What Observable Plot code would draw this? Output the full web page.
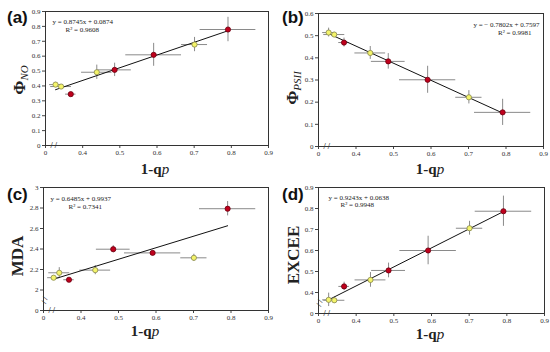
<!DOCTYPE html>
<html><head><meta charset="utf-8">
<script src="https://cdn.jsdelivr.net/npm/d3@7"></script>
<script src="https://cdn.jsdelivr.net/npm/@observablehq/plot@0.6"></script>
<style>
body{margin:0;background:#fff;}
#root{position:relative;width:550px;height:352px;overflow:hidden;background:#fff;}
.panel{position:absolute;width:275px;height:176px;}
.plab{position:absolute;font:bold 17px "Liberation Sans",Arial,sans-serif;color:#111;line-height:1;}
.ytitle{position:absolute;transform:translate(-50%,-50%) rotate(-90deg);font:bold 17px "Liberation Serif",serif;white-space:nowrap;color:#222;line-height:1;}
.xtitle{position:absolute;transform:translate(-50%,-50%);font:bold 15px "Liberation Serif",serif;white-space:nowrap;color:#222;line-height:1;}
sub{font-size:11px;vertical-align:-3px;font-style:italic;font-weight:normal;}
</style></head>
<body>
<div id="root">
  <div class="panel" id="pa" style="left:0;top:0"></div>
  <div class="panel" id="pb" style="left:275px;top:0"></div>
  <div class="panel" id="pc" style="left:0;top:176px"></div>
  <div class="panel" id="pd" style="left:275px;top:176px"></div>
  <div class="plab" style="left:7px;top:9px">(a)</div>
  <div class="plab" style="left:282px;top:9px">(b)</div>
  <div class="plab" style="left:7px;top:186px">(c)</div>
  <div class="plab" style="left:282px;top:186px">(d)</div>
  <div class="ytitle" style="left:20px;top:80px">Φ<sub>NO</sub></div>
  <div class="ytitle" style="left:293px;top:88px">Φ<sub>PSII</sub></div>
  <div class="ytitle" style="left:17px;top:256px">MDA</div>
  <div class="ytitle" style="left:293px;top:255px">EXCEE</div>
  <div class="xtitle" style="left:155px;top:169px">1-q<i style="font-weight:normal">p</i></div>
  <div class="xtitle" style="left:430px;top:169px">1-q<i style="font-weight:normal">p</i></div>
  <div class="xtitle" style="left:145px;top:331px">1-q<i style="font-weight:normal">p</i></div>
  <div class="xtitle" style="left:430px;top:334px">1-q<i style="font-weight:normal">p</i></div>
</div>
<script>
// ---- data ----
const pointGroup = ["Y", "Y", "R", "Y", "R", "R", "Y", "R"];
const oneMinusQp = [0.327, 0.342, 0.368, 0.438, 0.486, 0.591, 0.701, 0.791];
const oneMinusQpErr = [0.016, 0.028, 0.014, 0.041, 0.045, 0.075, 0.035, 0.075];
const phiNO = [0.409, 0.396, 0.345, 0.492, 0.508, 0.609, 0.678, 0.779];
const phiNOErr = [0.015, 0.01, 0.01, 0.048, 0.045, 0.077, 0.048, 0.082];
const phiPSII = [0.514, 0.505, 0.469, 0.422, 0.384, 0.301, 0.222, 0.154];
const phiPSIIErr = [0.02, 0.01, 0.02, 0.029, 0.035, 0.061, 0.03, 0.059];
const mda = [2.12, 2.168, 2.10, 2.194, 2.398, 2.362, 2.314, 2.793];
const mdaErr = [0.012, 0.05, 0.01, 0.045, 0.035, 0.02, 0.035, 0.07];
const excee = [0.365, 0.363, 0.429, 0.460, 0.505, 0.600, 0.706, 0.787];
const exceeErr = [0.032, 0.015, 0.02, 0.035, 0.035, 0.068, 0.033, 0.072];

const xTicks = [0.3, 0.4, 0.5, 0.6, 0.7, 0.8, 0.9];
const xTickLabels = ["0", "0.4", "0.5", "0.6", "0.7", "0.8", "0.9"];
const yTicksA = [0, 0.1, 0.2, 0.3, 0.4, 0.5, 0.6, 0.7, 0.8, 0.9];
const yTickLabelsA = ["0", "0.1", "0.2", "0.3", "0.4", "0.5", "0.6", "0.7", "0.8", "0.9"];
const yTicksB = [0, 0.1, 0.2, 0.3, 0.4, 0.5, 0.6];
const yTickLabelsB = ["0", "0.1", "0.2", "0.3", "0.4", "0.5", "0.6"];
const yTicksC = [1.8, 2, 2.2, 2.4, 2.6, 2.8, 3];
const yTickLabelsC = ["0", "2", "2.2", "2.4", "2.6", "2.8", "3"];
const yTicksD = [0.3, 0.4, 0.5, 0.6, 0.7, 0.8, 0.9];
const yTickLabelsD = ["0", "0.4", "0.5", "0.6", "0.7", "0.8", "0.9"];

const equations = ["y = 0.8745x + 0.0874", "y = \u2212 0.7802x + 0.7597", "y = 0.6485x + 0.9937", "y = 0.9243x + 0.0638"];
const rSquared = ["R\u00b2 = 0.9608", "R\u00b2 = 0.9981", "R\u00b2 = 0.7341", "R\u00b2 = 0.9948"];

const RED = "#c0001c", RED_STROKE = "#6a0010";
const YEL = "#f4f46a", YEL_STROKE = "#86864c";
const ERR = "#8a8a8a";

function rows(ys, yErr) {
  return ys.map((y, i) => ({g: pointGroup[i], x: oneMinusQp[i], ex: oneMinusQpErr[i], y, ey: yErr[i]}));
}

function panel(o) {
  const data = rows(o.y, o.yErr);
  const xFmt = new Map(xTicks.map((t, i) => [t, xTickLabels[i]]));
  const yFmt = new Map(o.yTicks.map((t, i) => [t, o.yTickLabels[i]]));
  const left = o.eqSide === "left";
  const marks = [
    Plot.axisX({ticks: xTicks, tickFormat: d => xFmt.get(d), tickSize: 3, tickPadding: 2, label: null, stroke: "#444", fill: "#333"}),
    Plot.axisY({ticks: o.yTicks, tickFormat: d => yFmt.get(d), tickSize: 3, tickPadding: 2, label: null, stroke: "#444", fill: "#333"}),
    Plot.ruleY(data, {y: "y", x1: d => d.x - d.ex, x2: d => d.x + d.ex, stroke: ERR, strokeWidth: 1}),
    Plot.ruleX(data, {x: "x", y1: d => d.y - d.ey, y2: d => d.y + d.ey, stroke: ERR, strokeWidth: 1}),
    Plot.linearRegressionY(data, {x: "x", y: "y", ci: 0, stroke: "#111", strokeWidth: 1}),
    Plot.dot(data, {filter: d => d.g === "Y", x: "x", y: "y", r: 2.6, fill: YEL, stroke: YEL_STROKE, strokeWidth: 0.8}),
    Plot.dot(data, {filter: d => d.g === "R", x: "x", y: "y", r: 2.6, fill: RED, stroke: RED_STROKE, strokeWidth: 0.8}),
    Plot.frame({stroke: "#333", strokeWidth: 1}),
    Plot.text([o.eq], {frameAnchor: left ? "top-left" : "top-right", textAnchor: left ? "start" : "end", lineAnchor: "top", dx: o.eqDx, dy: o.eqDy, fontSize: 7, fill: "#222"}),
    Plot.text([o.r2], {frameAnchor: left ? "top-left" : "top-right", textAnchor: left ? "start" : "end", lineAnchor: "top", dx: o.r2Dx, dy: o.r2Dy, fontSize: 7, fill: "#222"}),
    Plot.text([0.322], {x: d => d, frameAnchor: "bottom", lineAnchor: "middle", text: () => "/ /", fontSize: 8, fill: "#333", fontWeight: "bold"})
  ];
  if (o.yBreak != null) {
    marks.push(Plot.text([o.yBreak], {y: d => d, frameAnchor: "left", text: () => "/ /", rotate: -70, fontSize: 8, fill: "#333", fontWeight: "bold"}));
  }
  return Plot.plot({
    width: 275, height: 176,
    marginLeft: o.m[0], marginTop: o.m[1], marginRight: o.m[2], marginBottom: o.m[3],
    x: {domain: [0.3, 0.9]},
    y: {domain: o.yDomain},
    style: {fontFamily: "'Liberation Serif', serif", fontSize: "7px", background: "transparent", color: "#333", overflow: "visible"},
    marks
  });
}

document.getElementById("pa").append(panel({
  y: phiNO, yErr: phiNOErr, yDomain: [0, 0.9], yTicks: yTicksA, yTickLabels: yTickLabelsA,
  eq: equations[0], r2: rSquared[0], eqSide: "left", eqDx: 7, eqDy: 8, r2Dx: 20, r2Dy: 16,
  m: [45, 11, 7, 31]
}));
document.getElementById("pb").append(panel({
  y: phiPSII, yErr: phiPSIIErr, yDomain: [0, 0.6], yTicks: yTicksB, yTickLabels: yTickLabelsB,
  eq: equations[1], r2: rSquared[1], eqSide: "right", eqDx: -4, eqDy: 9, r2Dx: -12, r2Dy: 17,
  m: [43, 13, 7, 30]
}));
document.getElementById("pc").append(panel({
  y: mda, yErr: mdaErr, yDomain: [1.8, 3], yTicks: yTicksC, yTickLabels: yTickLabelsC, yBreak: 1.87,
  eq: equations[2], r2: rSquared[2], eqSide: "left", eqDx: 7, eqDy: 9, r2Dx: 25, r2Dy: 17,
  m: [43, 11, 7, 42]
}));
document.getElementById("pd").append(panel({
  y: excee, yErr: exceeErr, yDomain: [0.3, 0.9], yTicks: yTicksD, yTickLabels: yTickLabelsD, yBreak: 0.335,
  eq: equations[3], r2: rSquared[3], eqSide: "left", eqDx: 10, eqDy: 8, r2Dx: 22, r2Dy: 15,
  m: [43, 11, 6, 39]
}));
</script>
</body></html>
